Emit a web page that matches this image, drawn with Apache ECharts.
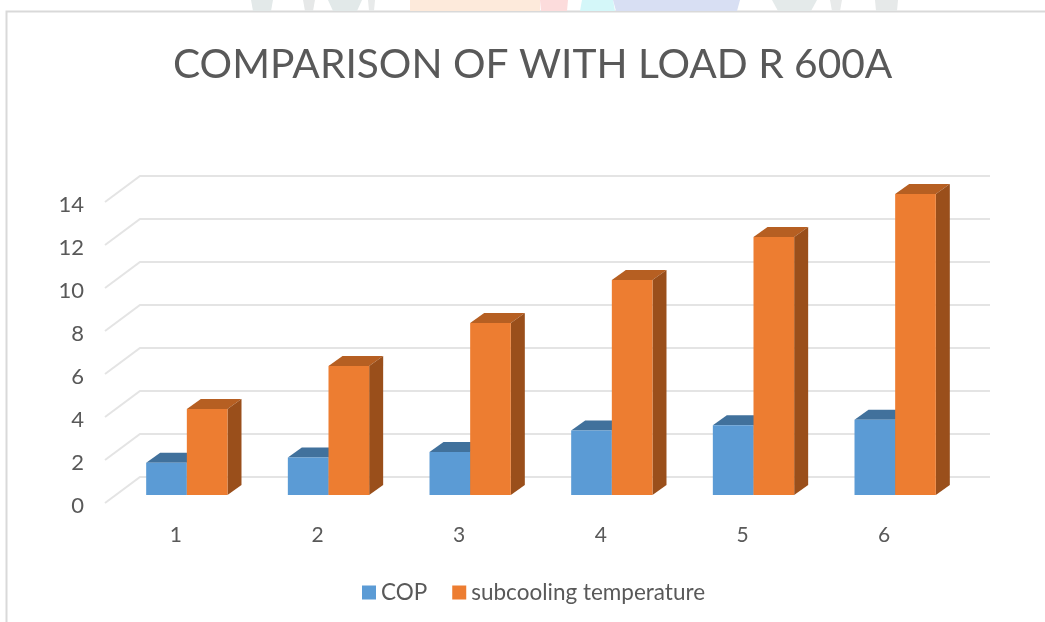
<!DOCTYPE html>
<html>
<head>
<meta charset="utf-8">
<title>COMPARISON OF WITH LOAD R 600A</title>
<script src="https://cdn.jsdelivr.net/npm/echarts@6/dist/echarts.min.js"></script>
<style>
    html, body { margin: 0; padding: 0; background: #fff; }
    #chart { width: 1045px; height: 622px; }
</style>
</head>
<body>
<div id="chart"></div>
<script>
    const categories = ['1', '2', '3', '4', '5', '6'];
    const cop = [1.5, 1.75, 2, 3, 3.25, 3.5];
    const subcooling = [4, 6, 8, 10, 12, 14];
    const yTicks = [0, 2, 4, 6, 8, 10, 12, 14];

    // oblique "3d" offsets, measured from the front edge of the floor
    const wallDx = 35, wallDy = -26;
    const barDx = 11, barDy = -8;
    const depthDx = 14, depthDy = -10;
    const barShare = 0.287;

    function wallItem(params, api) {
        let y = api.coord([0, api.value(0)])[1];
        let x0 = params.coordSys.x;
        let x1 = x0 + params.coordSys.width;
        return {
            type: 'polyline',
            silent: true,
            shape: { points: [[x0, y], [x0 + wallDx, y + wallDy], [x1 + wallDx, y + wallDy]] },
            style: { fill: null, stroke: '#e4e4e4', lineWidth: 2 }
        };
    }

    // side: -1 is the left bar of a category, 0 the right one
    function barRenderer(side, front, top, right) {
        return function (params, api) {
            let base = api.coord([api.value(0), 0]);
            let tip = api.coord([api.value(0), api.value(1)]);
            let w = api.size([1, 0])[0] * barShare;
            let x0 = base[0] + barDx + side * w;
            let x1 = x0 + w;
            let yb = base[1] + barDy;
            let yt = tip[1] + barDy;
            return {
                type: 'group',
                children: [
                    {
                        type: 'polygon',
                        shape: { points: [[x0, yt], [x0 + depthDx, yt + depthDy], [x1 + depthDx, yt + depthDy], [x1, yt]] },
                        style: { fill: top }
                    },
                    {
                        type: 'polygon',
                        shape: { points: [[x1, yt], [x1 + depthDx, yt + depthDy], [x1 + depthDx, yb + depthDy], [x1, yb]] },
                        style: { fill: right }
                    },
                    {
                        type: 'rect',
                        shape: { x: x0, y: yt, width: w, height: yb - yt },
                        style: { fill: front }
                    }
                ]
            };
        };
    }

    // page watermark showing above the frame
    function patch(x0, x1, slant, fill) {
        return {
            type: 'polygon',
            silent: true,
            shape: { points: [[x0, 0], [x1, 0], [x1 - slant, 11], [x0 + slant, 11]] },
            style: { fill: fill }
        };
    }

    let chart = echarts.init(document.getElementById('chart'));
    chart.setOption({
        animation: false,
        backgroundColor: '#fff',
        textStyle: { fontFamily: 'Lato' },
        title: {
            text: 'COMPARISON OF WITH LOAD R 600A',
            left: 168,
            top: 39,
            textStyle: { fontFamily: 'Lato', fontSize: 40.7, fontWeight: 'normal', color: '#595959' }
        },
        legend: {
            data: ['COP', 'subcooling temperature'],
            icon: 'rect',
            left: 357,
            top: 576,
            itemWidth: 14,
            itemHeight: 14,
            itemGap: 25,
            textStyle: { fontFamily: 'Lato', fontSize: 22.5, color: '#595959' }
        },
        grid: { left: 105, top: 202, width: 850, height: 301 },
        xAxis: {
            type: 'category',
            data: categories,
            axisLine: { show: false },
            axisTick: { show: false },
            axisLabel: { margin: 22, fontFamily: 'Lato', fontSize: 21, color: '#595959' }
        },
        yAxis: {
            type: 'value',
            min: 0,
            max: 14,
            interval: 2,
            axisLine: { show: false },
            axisTick: { show: false },
            splitLine: { show: false },
            // labels sit a little under the line they belong to
            axisLabel: { margin: 21, verticalAlign: 'top', lineHeight: 6, fontFamily: 'Lato', fontSize: 22, color: '#595959' }
        },
        series: [
            {
                name: 'wall',
                type: 'custom',
                silent: true,
                z: 1,
                data: yTicks.map(v => [v]),
                encode: { y: 0 },
                renderItem: wallItem
            },
            {
                name: 'COP',
                type: 'custom',
                z: 2,
                itemStyle: { color: '#5b9bd5' },
                data: cop.map((v, i) => [i, v]),
                encode: { x: 0, y: 1 },
                renderItem: barRenderer(-1, '#5b9bd5', '#41719c', '#41719c')
            },
            {
                name: 'subcooling temperature',
                type: 'custom',
                z: 3,
                itemStyle: { color: '#ed7d31' },
                data: subcooling.map((v, i) => [i, v]),
                encode: { x: 0, y: 1 },
                renderItem: barRenderer(0, '#ed7d31', '#b65f22', '#9a4f1b')
            }
        ],
        graphic: [
            // frame of the pasted chart, open on the right and at the bottom
            {
                type: 'polyline',
                silent: true,
                shape: { points: [[6.5, 622], [6.5, 11.5], [1045, 11.5]] },
                style: { fill: null, stroke: '#d9d9d9', lineWidth: 2 }
            },
            patch(251, 273, 2, '#e3e9e9'),
            patch(303, 315, 2, '#e6e8e8'),
            patch(328, 362, 5, '#e2e9e9'),
            patch(368, 375, 1, '#e8eaea'),
            patch(410, 540, 0, '#fdeadb'),
            patch(540, 568, 1, '#fcdcdc'),
            patch(582, 613, -2, '#d4f7f9'),
            patch(613, 740, 3, '#d8dff3'),
            patch(772, 817, 6, '#e4eaea'),
            patch(830, 842, 2, '#e8eaea'),
            patch(875, 898, 1, '#e6e9e9')
        ]
    });
</script>
</body>
</html>
